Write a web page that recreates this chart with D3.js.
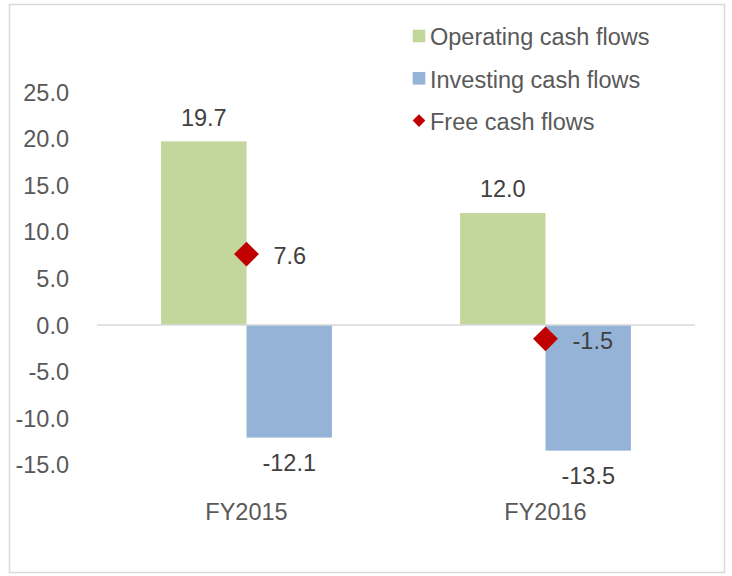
<!DOCTYPE html>
<html>
<head>
<meta charset="utf-8">
<script src="https://cdn.jsdelivr.net/npm/d3@7"></script>
<style>
  html, body { margin: 0; padding: 0; background: #fff; }
  svg { display: block; }
  text { font-family: "Liberation Sans", Arial, sans-serif; }
</style>
</head>
<body>
<svg id="chart" width="732" height="576"></svg>
<script>
const categories = ["FY2015", "FY2016"];
const seriesNames = ["Operating cash flows", "Investing cash flows", "Free cash flows"];
const operating = [19.7, 12.0];
const investing = [-12.1, -13.5];
const freeCash = [7.6, -1.5];
const yTicks = [-15, -10, -5, 0, 5, 10, 15, 20, 25];

const W = 732, H = 576;
const fontSize = "23.5px";
const colors = { op: "#C3D69B", inv: "#95B3D7", free: "#C00000" };
const fmt = v => d3.format(".1f")(v).replace("\u2212", "-");

const svg = d3.select("#chart");

// outer border
svg.append("rect")
  .attr("x", 9.5).attr("y", 4.5).attr("width", 715).attr("height", 568)
  .attr("fill", "#fff").attr("stroke", "#D9D9D9").attr("stroke-width", 1.5);

const plot = { left: 97, right: 695, top: 92, bottom: 464.6 };

const y = d3.scaleLinear().domain([-15, 25]).range([plot.bottom, plot.top]);
const x0 = d3.scaleBand().domain(categories).range([plot.left, plot.right]).padding(0);
const barSeries = ["op", "inv"];
const x1 = d3.scaleBand().domain(barSeries).range([0, x0.bandwidth()]).paddingInner(0).paddingOuter(0.75);

// y axis labels (no line, no ticks)
const yAxis = d3.axisLeft(y).tickValues(yTicks).tickFormat(fmt).tickSize(0).tickPadding(0);
const gy = svg.append("g").attr("transform", `translate(69,0)`).call(yAxis);
gy.select(".domain").remove();
gy.selectAll("text")
  .attr("font-size", fontSize).attr("fill", "#595959")
  .attr("font-family", "Liberation Sans, Arial, sans-serif")
  .attr("dy", "0.35em");

// bars
const rows = categories.map((c, i) => ({ cat: c, op: operating[i], inv: investing[i], free: freeCash[i] }));
const groups = svg.append("g").selectAll("g").data(rows).join("g")
  .attr("transform", d => `translate(${x0(d.cat)},0)`);

groups.selectAll("rect").data(d => barSeries.map(k => ({ key: k, v: d[k] }))).join("rect")
  .attr("x", d => x1(d.key))
  .attr("width", x1.bandwidth())
  .attr("y", d => y(Math.max(0, d.v)))
  .attr("height", d => Math.abs(y(d.v) - y(0)))
  .attr("fill", d => colors[d.key]);

// zero line
svg.append("line")
  .attr("x1", plot.left).attr("x2", plot.right)
  .attr("y1", y(0)).attr("y2", y(0))
  .attr("stroke", "#D9D9D9").attr("stroke-width", 1.5);

// bar labels
groups.selectAll("text.bl").data(d => barSeries.map(k => ({ key: k, v: d[k] }))).join("text")
  .attr("class", "bl")
  .attr("x", d => x1(d.key) + x1.bandwidth() / 2)
  .attr("y", d => d.v >= 0 ? y(d.v) - 24 : y(d.v) + 25)
  .attr("dy", "0.35em")
  .attr("text-anchor", "middle")
  .attr("font-size", fontSize).attr("fill", "#404040")
  .text(d => fmt(d.v));

// free cash flow diamonds
svg.append("g").selectAll("path").data(rows).join("path")
  .attr("transform", d => `translate(${x0(d.cat) + x0.bandwidth() / 2},${y(d.free)}) rotate(45)`)
  .attr("d", d3.symbol().type(d3.symbolSquare).size(310))
  .attr("fill", colors.free);

svg.append("g").selectAll("text").data(rows).join("text")
  .attr("x", d => x0(d.cat) + x0.bandwidth() / 2 + 27)
  .attr("y", d => y(d.free) + 2)
  .attr("dy", "0.35em")
  .attr("font-size", fontSize).attr("fill", "#404040")
  .text(d => fmt(d.free));

// category labels
svg.append("g").selectAll("text").data(categories).join("text")
  .attr("x", d => x0(d) + x0.bandwidth() / 2)
  .attr("y", 511.7)
  .attr("dy", "0.35em")
  .attr("text-anchor", "middle")
  .attr("font-size", fontSize).attr("fill", "#595959")
  .text(d => d);

// legend
const legendItems = [
  { name: seriesNames[0], type: "square", color: colors.op },
  { name: seriesNames[1], type: "square", color: colors.inv },
  { name: seriesNames[2], type: "diamond", color: colors.free }
];
const lg = svg.append("g").attr("transform", "translate(419,36)");
const li = lg.selectAll("g").data(legendItems).join("g")
  .attr("transform", (d, i) => `translate(0,${i * 42.3})`);
li.filter(d => d.type === "square").append("rect")
  .attr("x", -6.3).attr("y", -6.3).attr("width", 12.6).attr("height", 12.6)
  .attr("fill", d => d.color);
li.filter(d => d.type === "diamond").append("path")
  .attr("transform", "rotate(45)")
  .attr("d", d3.symbol().type(d3.symbolSquare).size(80))
  .attr("fill", d => d.color);
li.append("text")
  .attr("x", 11).attr("y", 1)
  .attr("dy", "0.35em")
  .attr("font-size", fontSize).attr("fill", "#595959")
  .text(d => d.name);
</script>
</body>
</html>
